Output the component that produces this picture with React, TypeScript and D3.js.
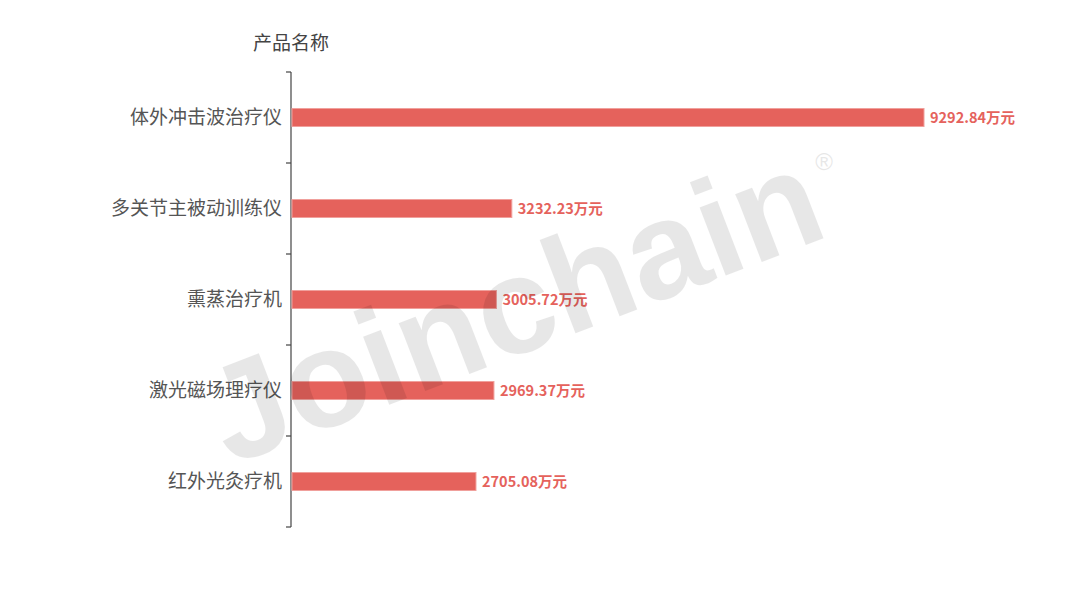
import React from "react";
import * as d3 from "d3";

const categories = ["体外冲击波治疗仪", "多关节主被动训练仪", "熏蒸治疗机", "激光磁场理疗仪", "红外光灸疗机"];
const values = [9292.84, 3232.23, 3005.72, 2969.37, 2705.08];
const unit = "万元";
const axisTitle = "产品名称";

const W = 1080;
const H = 600;
const axisX = 291;
const top = 72;
const bottom = 527;
const barColor = "#e5625c";
const font = "'Noto Sans CJK SC', 'Noto Sans', sans-serif";

export default function App() {
  const y = d3.scaleBand<string>().domain(categories).range([top, bottom]).paddingInner(0).paddingOuter(0);
  const x = d3.scaleLinear().domain([0, d3.max(values) as number]).range([axisX + 1, 924]);
  const barH = 18;
  const tickYs = [...categories.map((c) => y(c) as number), bottom];

  return (
    <svg width={W} height={H} style={{ position: "absolute", left: 0, top: 0, background: "#fff" }}>
      <rect x={0} y={0} width={W} height={H} fill="#fff" />
      <text x={axisX} y={50} textAnchor="middle" fontFamily={font} fontSize={19} fill="#444">
        {axisTitle}
      </text>
      <line x1={axisX} x2={axisX} y1={top} y2={bottom} stroke="#444" strokeWidth={1.2} />
      {tickYs.map((t, i) => (
        <line key={i} x1={axisX - 5} x2={axisX} y1={t} y2={t} stroke="#444" strokeWidth={1.2} />
      ))}
      {categories.map((c, i) => {
        const cy = (y(c) as number) + y.bandwidth() / 2;
        const x1 = x(values[i]);
        return (
          <g key={c}>
            <text x={282} y={cy} dy="0.35em" textAnchor="end" fontFamily={font} fontSize={19} fill="#555">
              {c}
            </text>
            <rect x={x(0)} y={cy - barH / 2} width={x1 - x(0)} height={barH} fill={barColor} stroke="#f0a09c" strokeWidth={1} />
            <text x={x1 + 6} y={cy} dy="0.36em" fontFamily={font} fontSize={14.5} fontWeight="bold" fill={barColor}>
              {values[i].toFixed(2) + unit}
            </text>
          </g>
        );
      })}
      <g transform="translate(230,466) rotate(-21)" opacity={0.09}>
        <text x={0} y={0} fontFamily="'Liberation Sans', Arial, sans-serif" fontWeight="bold" fontSize={138} fill="#000">
          Joinchain
        </text>
      </g>
      <text x={824} y={170} textAnchor="middle" fontFamily="'Liberation Sans', Arial, sans-serif" fontSize={24} fill="#000" opacity={0.09}>
        ®
      </text>
    </svg>
  );
}
